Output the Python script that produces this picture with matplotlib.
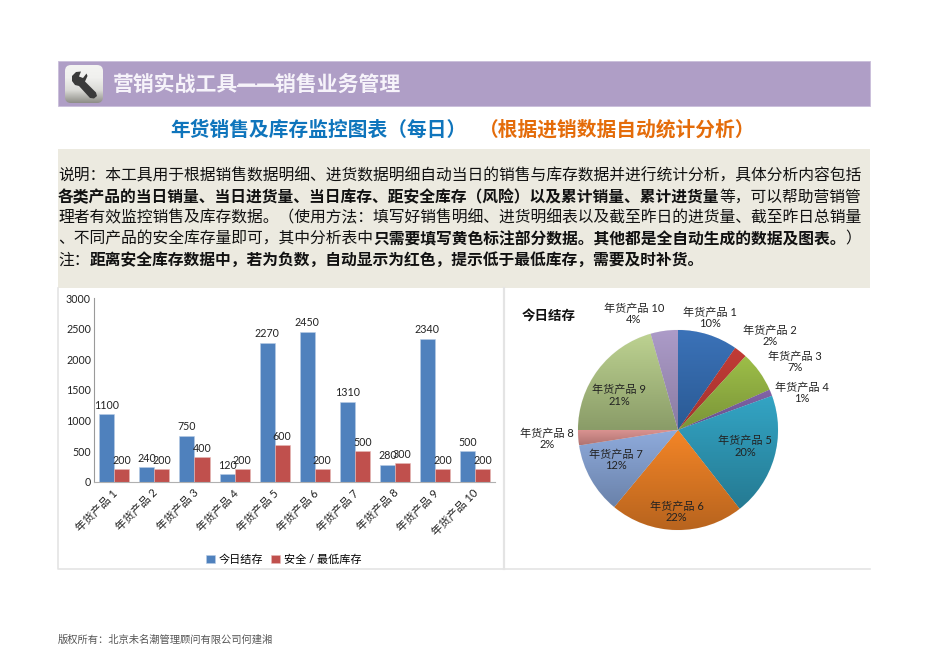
import numpy as np
import matplotlib
matplotlib.use('Agg')
import matplotlib.pyplot as plt
from matplotlib.patches import FancyBboxPatch, Polygon, Rectangle
from matplotlib.colors import LinearSegmentedColormap
from matplotlib.font_manager import FontProperties
from matplotlib.transforms import ScaledTranslation

CJK = ['Noto Sans CJK SC', 'DejaVu Sans']
MIX = ['Lato', 'Noto Sans CJK SC', 'DejaVu Sans']
plt.rcParams['font.family'] = CJK
plt.rcParams['axes.unicode_minus'] = False

categories = ['年货产品 1', '年货产品 2', '年货产品 3', '年货产品 4', '年货产品 5',
              '年货产品 6', '年货产品 7', '年货产品 8', '年货产品 9', '年货产品 10']
stock_today = [1100, 240, 750, 120, 2270, 2450, 1310, 280, 2340, 500]
stock_safe = [200, 200, 400, 200, 600, 200, 500, 300, 200, 200]
y_ticks = [0, 500, 1000, 1500, 2000, 2500, 3000]
series_names = ['今日结存', '安全 / 最低库存']

banner_text = '营销实战工具——销售业务管理'
title_blue = '年货销售及库存监控图表（每日）'
title_orange = '（根据进销数据自动统计分析）'
footer_text = '版权所有：北京未名潮管理顾问有限公司何建湘'
para_lines = [
    [('说明：本工具用于根据销售数据明细、进货数据明细自动当日的销售与库存数据并进行统计分析，具体分析内容包括', False)],
    [('各类产品的当日销量、当日进货量、当日库存、距安全库存（风险）以及累计销量、累计进货量', True),
     ('等，可以帮助营销管', False)],
    [('理者有效监控销售及库存数据。（使用方法：填写好销售明细、进货明细表以及截至昨日的进货量、截至昨日总销量', False)],
    [('、不同产品的安全库存量即可，其中分析表中', False),
     ('只需要填写黄色标注部分数据。其他都是全自动生成的数据及图表。', True), ('）', False)],
    [('注：', False), ('距离安全库存数据中，若为负数，自动显示为红色，提示低于最低库存，需要及时补货。', True)],
]

W, H = 950, 672
fig = plt.figure(figsize=(W / 100, H / 100), dpi=100, facecolor='white')


def px_axes(x0, y0, x1, y1, **kw):
    return fig.add_axes([x0 / W, 1 - y1 / H, (x1 - x0) / W, (y1 - y0) / H], **kw)


# page-level furniture, in pixel coordinates
bg = fig.add_axes([0, 0, 1, 1])
bg.set_xlim(0, W)
bg.set_ylim(H, 0)
bg.axis('off')
bg.add_patch(Rectangle((57.5, 60.5), 812.5, 45.5, fc='#AF9EC6', ec='#C9BEDA', lw=0.6))
bg.add_patch(Rectangle((57.5, 149), 812.5, 138.5, fc='#ECEAE0', ec='none'))
bg.add_patch(Rectangle((58, 288), 812, 280.5, fc='white', ec='none'))
bg.plot([58, 58, 870], [288, 568.5, 568.5], color='#E4E4E4', lw=1.2)
bg.plot([504, 504], [288, 568.5], color='#E4E4E4', lw=1.6)

# wrench icon
grad = np.linspace(0, 1, 64).reshape(-1, 1)
icon_cmap = LinearSegmentedColormap.from_list('icon', ['#F4F4F2', '#F0F0EE', '#DADAD6', '#8E8E88'])
im = bg.imshow(grad, extent=(65, 103, 103, 65), cmap=icon_cmap, aspect='auto', zorder=2)
box = FancyBboxPatch((69, 69), 30, 30, boxstyle='round,pad=4,rounding_size=6', fc='none', ec='none',
                     transform=bg.transData)
bg.add_patch(box)
im.set_clip_path(box)
bg.set_xlim(0, W)
bg.set_ylim(H, 0)
wrench = [(81, 71.5), (76, 72), (72, 76), (72, 81), (75, 85), (79, 86), (90, 98), (94, 98.5), (97, 96),
          (96, 92.5), (85, 81.5), (87.5, 76), (86.5, 73.5), (83, 78), (79, 76.5)]
bg.add_patch(Polygon(wrench, closed=True, fc='#3A3A3A', ec='none', zorder=3))

bg.text(113, 84.5, banner_text, color='#F6F3FA', fontsize=15, fontweight='bold', va='center', ha='left')
bg.plot([237, 281], [85.5, 85.5], color='#F6F3FA', lw=1.3, solid_capstyle='butt')
bg.text(170, 130, title_blue, color='#0F75BC', fontsize=14.2, fontweight='bold', va='center', ha='left')
bg.text(479, 130, title_orange, color='#E46C0A', fontsize=14.2, fontweight='bold', va='center', ha='left')
bg.text(58, 640, footer_text, color='#555555', fontsize=7.4, va='center', ha='left')

# paragraph with mixed weights
renderer = fig.canvas.get_renderer()
for line, y in zip(para_lines, [176, 197, 218, 239, 260]):
    x = 58
    for seg, bold in line:
        t = bg.text(x, y, seg, color='#111111', fontsize=11.36, fontweight='bold' if bold else 'normal',
                    va='center', ha='left')
        x += t.get_window_extent(renderer).width

# bar chart
ax = px_axes(94.3, 298.3, 495, 481.7)
ax.patch.set_alpha(0)
pos = np.arange(len(categories))
bw = 0.375
b1 = ax.bar(pos - bw / 2, stock_today, bw, color='#4F81BD', edgecolor='#B9CDE5', linewidth=0.4, label=series_names[0])
b2 = ax.bar(pos + bw / 2, stock_safe, bw, color='#C0504D', edgecolor='#E6B9B8', linewidth=0.4, label=series_names[1])
for bars in (b1, b2):
    ax.bar_label(bars, padding=2.5, fontsize=7.7, family=MIX, color='#222222')
ax.set_xlim(-0.5, 9.5)
ax.set_ylim(0, 3000)
ax.set_yticks(y_ticks)
ax.tick_params(axis='y', length=0, pad=2.4, labelsize=7.7, labelcolor='#222222')
for lab in ax.get_yticklabels():
    lab.set_family(MIX)
ax.set_xticks(pos)
ax.set_xticklabels(categories, rotation=45, ha='right', rotation_mode='anchor', fontsize=8, family=MIX,
                   color='#222222')
ax.tick_params(axis='x', length=0, pad=4)
shift = ScaledTranslation(-1.5 / 72, 0, fig.dpi_scale_trans)
for lab in ax.get_xticklabels():
    lab.set_transform(lab.get_transform() + shift)
for s in ('top', 'right'):
    ax.spines[s].set_visible(False)
ax.spines['left'].set_color('#9A9A9A')
ax.spines['bottom'].set_color('#B0B0B0')
ax.spines['left'].set_linewidth(0.8)
ax.spines['bottom'].set_linewidth(0.8)
leg = ax.legend(loc='center', bbox_to_anchor=((283.5 - 94.3) / 400.7, -(559.5 - 481.7) / 183.4), ncol=2, frameon=False,
                prop=FontProperties(family=MIX, size=8), handlelength=0.8, handleheight=0.8, handletextpad=0.35,
                columnspacing=0.7, borderpad=0)

# pie chart
pie_ax = px_axes(578, 330, 778, 530)
pie_ax.patch.set_alpha(0)
tops = ['#3B72B8', '#C23B35', '#9DBE48', '#8364A8', '#33A4C4', '#F38527', '#8FABDC', '#DC9492', '#BDD291', '#AC9BC8']
bots = ['#2A5A94', '#A23430', '#7A9438', '#64508A', '#257A92', '#B8641E', '#6A82AA', '#B07472', '#8A9C68', '#8A7CA2']
wedges, _ = pie_ax.pie(stock_today, startangle=90, counterclock=False, radius=1,
                       wedgeprops=dict(edgecolor='#F4F4F4', linewidth=0.5))
for w, c0, c1 in zip(wedges, tops, bots):
    w.set_facecolor(c0)
    e = w.get_path().get_extents(w.get_patch_transform())
    cmap = LinearSegmentedColormap.from_list('g', [c0, c1])
    im = pie_ax.imshow(grad, extent=(e.x0, e.x1, e.y0, e.y1), origin='upper', cmap=cmap, aspect='auto',
                       zorder=w.get_zorder() + 0.1)
    im.set_clip_path(w)
pie_ax.set_xlim(-1, 1)
pie_ax.set_ylim(-1, 1)
pie_ax.set_aspect('equal')
pie_ax.axis('off')

# pie labels, placed by hand as in the source
overlay = fig.add_axes([0, 0, 1, 1])
overlay.set_xlim(0, W)
overlay.set_ylim(H, 0)
overlay.axis('off')
overlay.patch.set_alpha(0)
label_px = [(710, 317.7), (770, 336), (795, 361.7), (801.7, 392.7), (745, 446.3),
            (676.7, 511.7), (615.7, 459.7), (546.7, 438.7), (619, 395.3), (634, 314)]
total = sum(stock_today)
for name, v, (x, y) in zip(categories, stock_today, label_px):
    overlay.text(x, y, f'{name}\n{v / total * 100:.0f}%', ha='center', va='center', fontsize=8, family=MIX,
                 color='#222222', linespacing=1.05)
overlay.text(521.5, 316.5, series_names[0], fontsize=9.7, fontweight='bold', color='#111111', va='center', ha='left')

fig.savefig('out.png', dpi=100, facecolor='white')
